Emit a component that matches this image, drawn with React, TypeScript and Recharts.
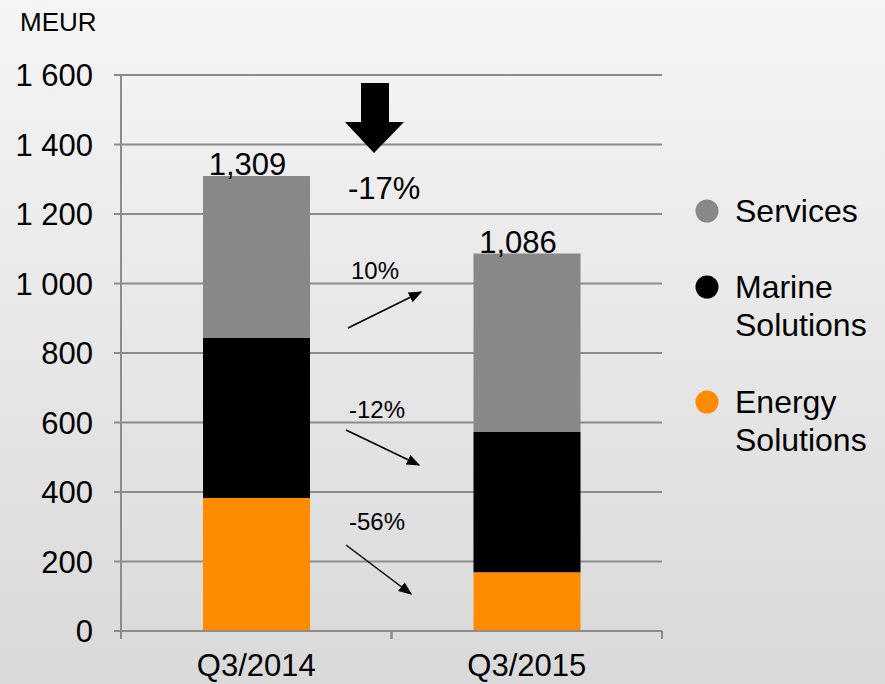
import React from "react";
import { BarChart, Bar, XAxis, YAxis, CartesianGrid, LabelList } from "recharts";

const quarters = ["Q3/2014", "Q3/2015"];
const energy = [383, 169];
const marine = [460, 404];
const services = [466, 513];
const totalLabels = ["1,309", "1,086"];
const yTicks = [0, 200, 400, 600, 800, 1000, 1200, 1400, 1600];

const series = [
  { key: "services", name: ["Services"], color: "#888888" },
  { key: "marine", name: ["Marine", "Solutions"], color: "#000000" },
  { key: "energy", name: ["Energy", "Solutions"], color: "#ff8c00" },
];

const changes = [
  { text: "10%", x: 351, y: 279, from: [348, 328], to: [421, 292] },
  { text: "-12%", x: 349, y: 418, from: [346, 430], to: [419, 465] },
  { text: "-56%", x: 349, y: 530, from: [346, 545], to: [411, 594] },
];

const data = quarters.map((q, i) => ({
  quarter: q,
  energy: energy[i],
  marine: marine[i],
  services: services[i],
  total: totalLabels[i],
}));

const FONT = "'Liberation Sans', Arial, sans-serif";

const fmtTick = (v: number) =>
  v >= 1000 ? `${Math.floor(v / 1000)} ${String(v % 1000).padStart(3, "0")}` : String(v);

const XTick = (props: any) => {
  const { x, payload } = props;
  const off = payload.offset || 0;
  const axisY = 631;
  return (
    <g>
      <line x1={x - off} x2={x - off} y1={axisY} y2={axisY + 8} stroke="#8c8c8c" strokeWidth={2} />
      <line x1={x + off} x2={x + off} y1={axisY} y2={axisY + 8} stroke="#8c8c8c" strokeWidth={2} />
      <text x={x} y={axisY + 45} textAnchor="middle" fontSize={31} fill="#000" fontFamily={FONT}>
        {payload.value}
      </text>
    </g>
  );
};

const YTick = (props: any) => {
  const { x, y, payload } = props;
  return (
    <text x={x} y={y + 11} textAnchor="end" fontSize={31} fill="#000" fontFamily={FONT}>
      {fmtTick(payload.value)}
    </text>
  );
};

const TotalLabel = (props: any) => {
  const { x, y, width, index } = props;
  return (
    <text x={x + width / 2 - 9} y={y - 1} textAnchor="middle" fontSize={31} fill="#000" fontFamily={FONT}>
      {data[index].total}
    </text>
  );
};

const legendY = [211, 287, 402];

export default function App() {
  return (
    <div
      style={{
        position: "absolute",
        left: 0,
        top: 0,
        width: 885,
        height: 684,
        background: "linear-gradient(#f5f5f5, #d9d9d9)",
        fontFamily: FONT,
        overflow: "hidden",
      }}
    >
      <BarChart
        width={885}
        height={684}
        data={data}
        margin={{ top: 75, right: 223, left: 21, bottom: 0 }}
        barSize={107}
      >
        <CartesianGrid vertical={false} stroke="#8c8c8c" strokeWidth={2} />
        <XAxis
          dataKey="quarter"
          height={53}
          axisLine={{ stroke: "#8c8c8c", strokeWidth: 2 }}
          tickLine={false}
          tick={<XTick />}
          interval={0}
        />
        <YAxis
          width={100}
          domain={[0, 1600]}
          ticks={yTicks}
          tick={<YTick />}
          tickSize={7}
          tickMargin={21}
          axisLine={{ stroke: "#8c8c8c", strokeWidth: 2 }}
          tickLine={{ stroke: "#8c8c8c", strokeWidth: 2 }}
        />
        <Bar dataKey="energy" stackId="a" fill="#ff8c00" isAnimationActive={false} />
        <Bar dataKey="marine" stackId="a" fill="#000000" isAnimationActive={false} />
        <Bar dataKey="services" stackId="a" fill="#888888" isAnimationActive={false}>
          <LabelList dataKey="total" content={<TotalLabel />} />
        </Bar>
      </BarChart>
      <svg width={885} height={684} style={{ position: "absolute", left: 0, top: 0, pointerEvents: "none" }}>
        <defs>
          <marker id="ah" viewBox="0 0 10 10" refX="9" refY="5" markerWidth="9" markerHeight="9" orient="auto">
            <path d="M0,1 L10,5 L0,9 z" fill="#000" />
          </marker>
        </defs>
        <text x={20} y={31} fontSize={26} fontFamily={FONT} fill="#000">MEUR</text>
        <polygon points="361,83 389,83 389,122 404,122 374,153 345,122 361,122" fill="#000" />
        <text x={348} y={199} fontSize={31} fontFamily={FONT} fill="#000">-17%</text>
        {changes.map((c) => (
          <g key={c.text}>
            <text x={c.x} y={c.y} fontSize={24} fontFamily={FONT} fill="#000">{c.text}</text>
            <line
              x1={c.from[0]}
              y1={c.from[1]}
              x2={c.to[0]}
              y2={c.to[1]}
              stroke="#000"
              strokeWidth={1.5}
              markerEnd="url(#ah)"
            />
          </g>
        ))}
        {series.map((s, i) => (
          <g key={s.key}>
            <circle cx={707} cy={legendY[i]} r={11.5} fill={s.color} />
            {s.name.map((n, j) => (
              <text key={n} x={735} y={legendY[i] + 11 + j * 38} fontSize={32} fontFamily={FONT} fill="#000">
                {n}
              </text>
            ))}
          </g>
        ))}
      </svg>
    </div>
  );
}
